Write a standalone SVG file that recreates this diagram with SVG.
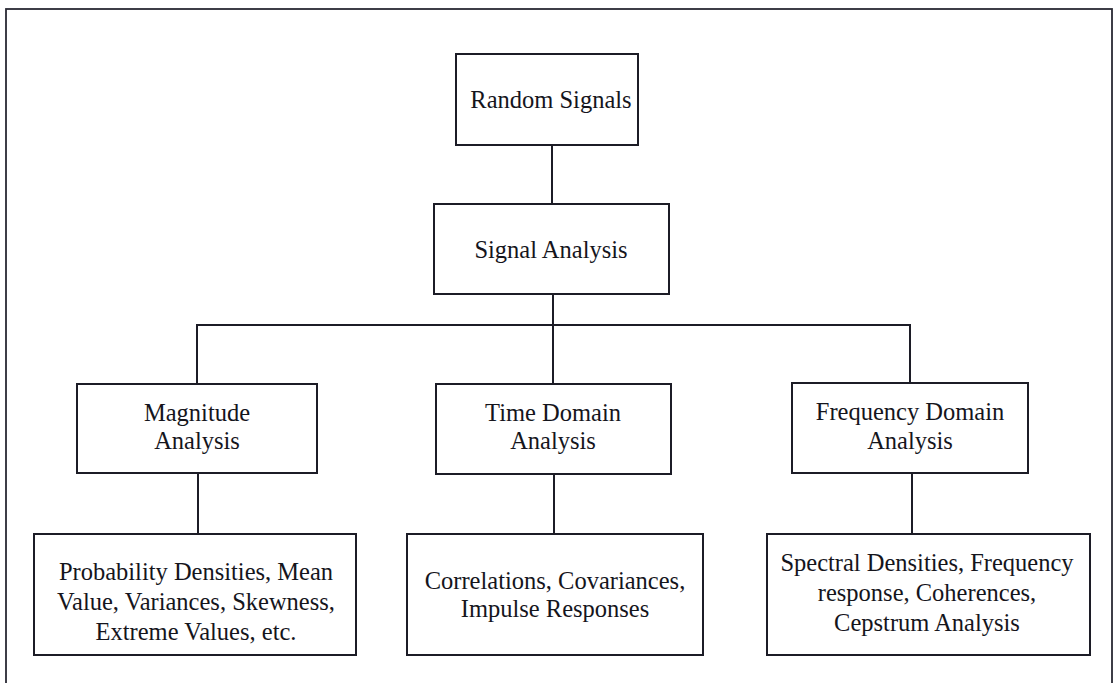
<svg xmlns="http://www.w3.org/2000/svg" width="1117" height="683" viewBox="0 0 1117 683">
<style>
.box{fill:#fff;stroke:#1c1c26;stroke-width:2}
.wire{fill:none;stroke:#1c1c26;stroke-width:2}
.frame{fill:none;stroke:#2a2a34;stroke-width:1.8}
text{font-family:"Liberation Serif","Times New Roman",serif;font-size:24.5px;fill:#15151c;text-anchor:middle}
</style>
<rect width="1117" height="683" fill="#fff"/>
<rect class="frame" x="6" y="9" width="1106" height="690"/>
<g id="connectors">
<line class="wire" x1="552" y1="145" x2="552" y2="205"/>
<line class="wire" x1="553" y1="294" x2="553" y2="325"/>
<polyline class="wire" points="197,384 197,325 910,325 910,384"/>
<line class="wire" x1="553" y1="325" x2="553" y2="384"/>
<line class="wire" x1="198" y1="473" x2="198" y2="534"/>
<line class="wire" x1="554" y1="474" x2="554" y2="534"/>
<line class="wire" x1="912" y1="473" x2="912" y2="534"/>
</g>
<g id="random-signals">
<rect class="box" x="456" y="54" width="182" height="91"/>
<text x="551" y="108">Random Signals</text>
</g>
<g id="signal-analysis">
<rect class="box" x="434" y="204" width="235" height="90"/>
<text x="551" y="258">Signal Analysis</text>
</g>
<g id="magnitude-analysis">
<rect class="box" x="77" y="384" width="240" height="89"/>
<text x="197" y="421">Magnitude</text>
<text x="197" y="449">Analysis</text>
</g>
<g id="time-domain-analysis">
<rect class="box" x="436" y="384" width="235" height="90"/>
<text x="553" y="421">Time Domain</text>
<text x="553" y="449">Analysis</text>
</g>
<g id="frequency-domain-analysis">
<rect class="box" x="792" y="383" width="236" height="90"/>
<text x="910" y="420">Frequency Domain</text>
<text x="910" y="449">Analysis</text>
</g>
<g id="magnitude-results">
<rect class="box" x="34" y="534" width="322" height="121"/>
<text x="196" y="580">Probability Densities, Mean</text>
<text x="196" y="610">Value, Variances, Skewness,</text>
<text x="196" y="640">Extreme Values, etc.</text>
</g>
<g id="time-results">
<rect class="box" x="407" y="534" width="296" height="121"/>
<text x="555" y="589">Correlations, Covariances,</text>
<text x="555" y="617">Impulse Responses</text>
</g>
<g id="frequency-results">
<rect class="box" x="767" y="534" width="323" height="121"/>
<text x="927" y="571">Spectral Densities, Frequency</text>
<text x="927" y="601">response, Coherences,</text>
<text x="927" y="631">Cepstrum Analysis</text>
</g>
</svg>
